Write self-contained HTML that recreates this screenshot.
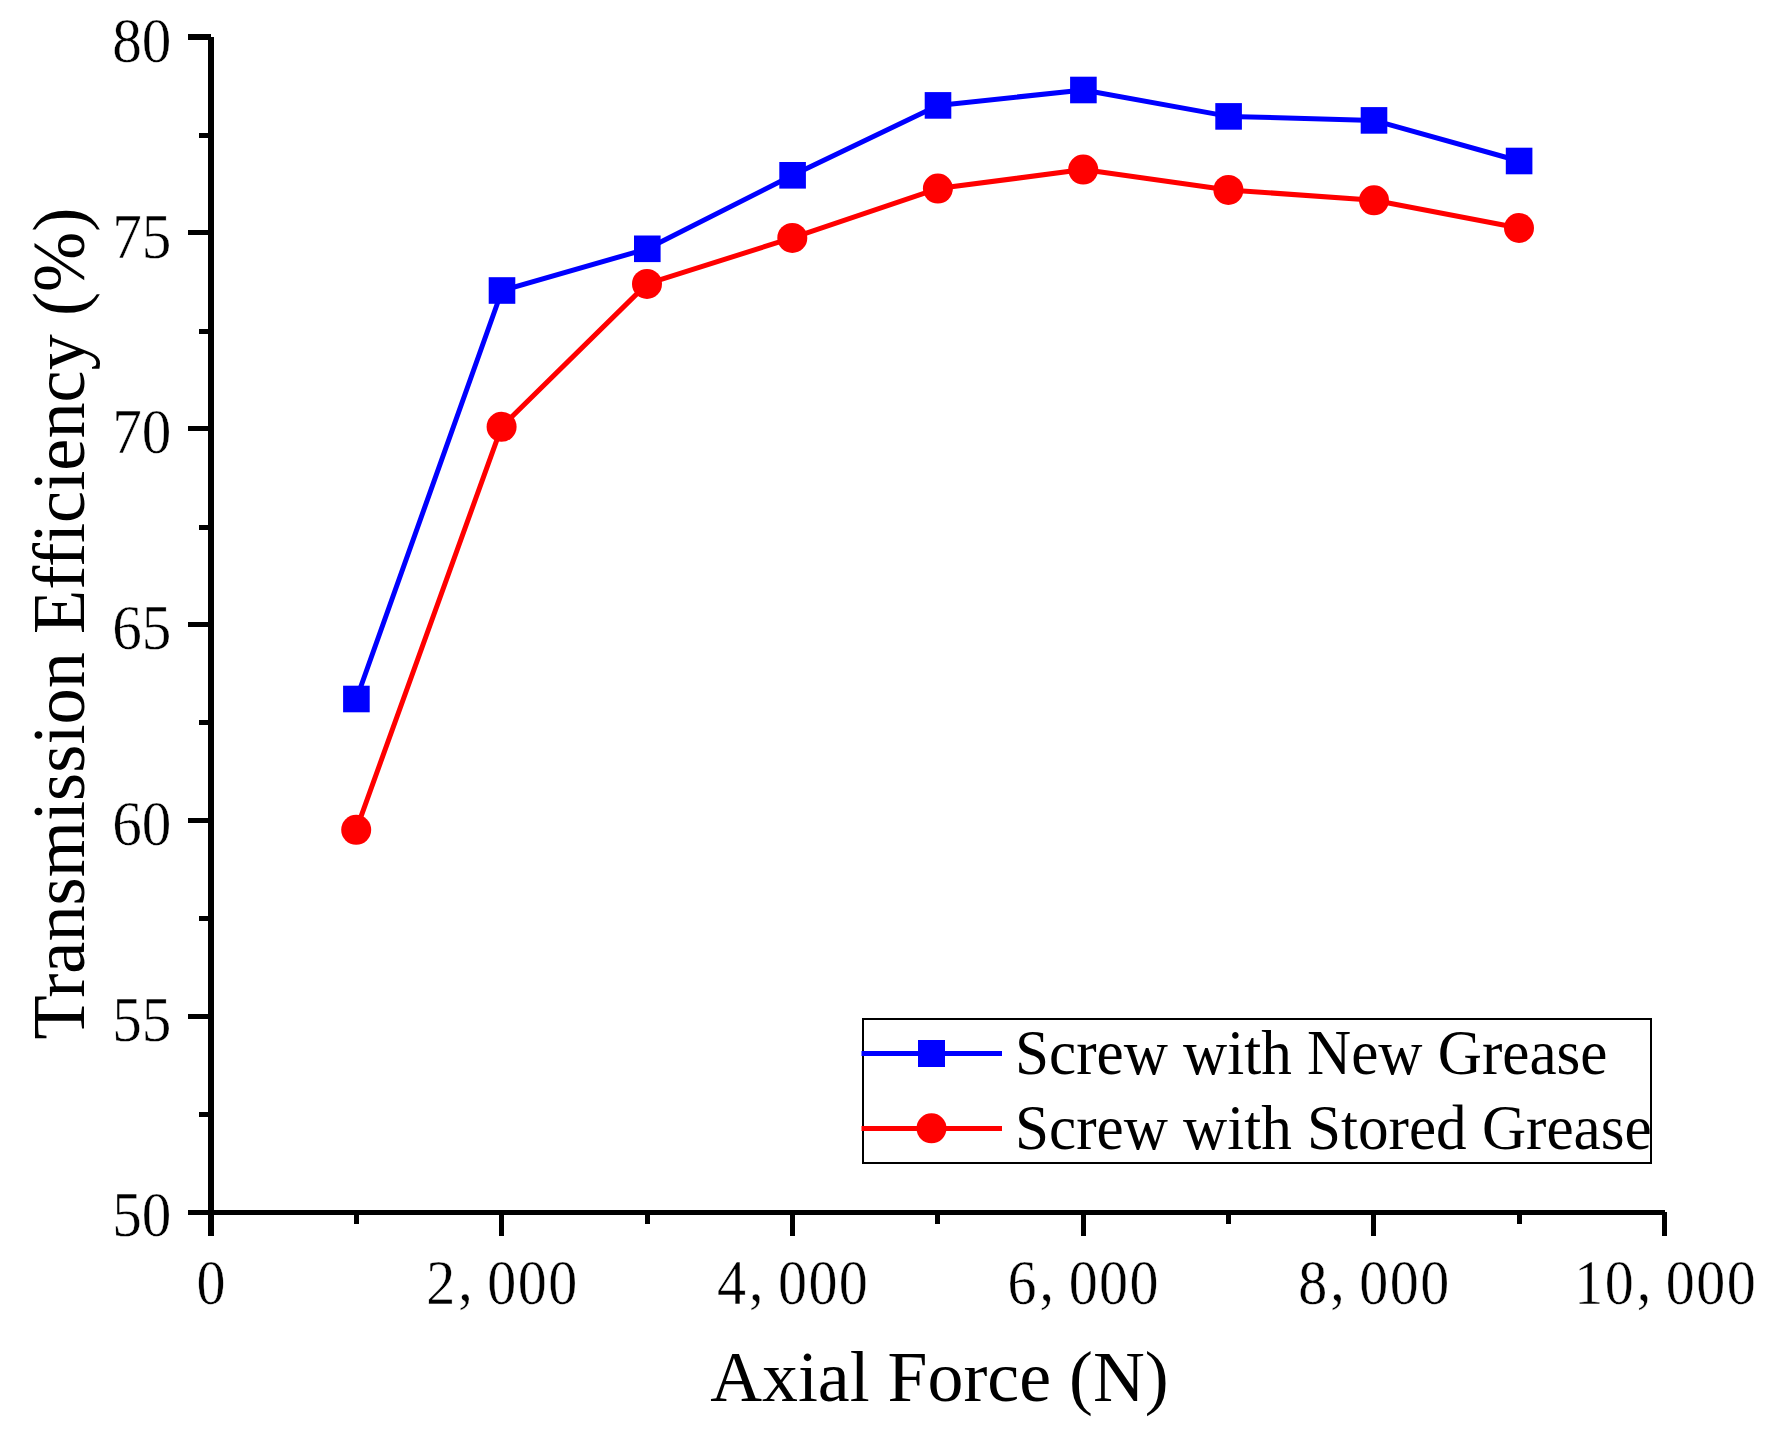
<!DOCTYPE html>
<html lang="en"><head><meta charset="utf-8"><title>Transmission Efficiency vs Axial Force</title>
<style>html,body{margin:0;padding:0;background:#fff}svg{display:block}text{font-family:"Liberation Serif",serif;fill:#000}.tk{font-size:61px;stroke:#fff;stroke-width:0.4px}.ax{font-size:72px}.lg{font-size:61.15px}</style></head><body>
<svg width="1784" height="1433" viewBox="0 0 1784 1433">
<rect x="0" y="0" width="1784" height="1433" fill="#fff"/>
<g fill="#000" shape-rendering="crispEdges">
<rect x="208" y="37" width="6" height="1199"/>
<rect x="188" y="1210" width="1477" height="5"/>
<rect x="188" y="1014" width="21" height="5"/>
<rect x="188" y="818" width="21" height="5"/>
<rect x="188" y="622" width="21" height="5"/>
<rect x="188" y="426" width="21" height="5"/>
<rect x="188" y="230" width="21" height="5"/>
<rect x="188" y="34" width="23" height="6"/>
<rect x="199" y="1112" width="10" height="5"/>
<rect x="199" y="916" width="10" height="5"/>
<rect x="199" y="720" width="10" height="5"/>
<rect x="199" y="525" width="10" height="5"/>
<rect x="199" y="329" width="10" height="5"/>
<rect x="199" y="133" width="10" height="5"/>
<rect x="499" y="1212" width="5" height="24"/>
<rect x="790" y="1212" width="5" height="24"/>
<rect x="1081" y="1212" width="5" height="24"/>
<rect x="1371" y="1212" width="5" height="24"/>
<rect x="1662" y="1212" width="5" height="24"/>
<rect x="354" y="1212" width="5" height="12"/>
<rect x="645" y="1212" width="5" height="12"/>
<rect x="935" y="1212" width="5" height="12"/>
<rect x="1226" y="1212" width="5" height="12"/>
<rect x="1517" y="1212" width="5" height="12"/>
</g>
<text class="tk" transform="translate(141.8,1236.4) scale(0.97,1.045)" text-anchor="middle">50</text>
<text class="tk" transform="translate(141.8,1040.6) scale(0.97,1.045)" text-anchor="middle">55</text>
<text class="tk" transform="translate(141.8,844.9) scale(0.97,1.045)" text-anchor="middle">60</text>
<text class="tk" transform="translate(141.8,649.2) scale(0.97,1.045)" text-anchor="middle">65</text>
<text class="tk" transform="translate(141.8,453.4) scale(0.97,1.045)" text-anchor="middle">70</text>
<text class="tk" transform="translate(141.8,257.7) scale(0.97,1.045)" text-anchor="middle">75</text>
<text class="tk" transform="translate(141.8,62.0) scale(0.97,1.045)" text-anchor="middle">80</text>
<text class="tk" transform="translate(211.0,1303.5) scale(0.952,1.045)" x="-15.2" y="0">0</text>
<text class="tk" transform="translate(501.7,1303.5) scale(0.952,1.045)" x="-79.3 -45.7 -15.2 16.8 48.8" y="0 -2.5 0 0 0">2,000</text>
<text class="tk" transform="translate(792.4,1303.5) scale(0.952,1.045)" x="-79.3 -45.7 -15.2 16.8 48.8" y="0 -2.5 0 0 0">4,000</text>
<text class="tk" transform="translate(1083.1,1303.5) scale(0.952,1.045)" x="-79.3 -45.7 -15.2 16.8 48.8" y="0 -2.5 0 0 0">6,000</text>
<text class="tk" transform="translate(1373.8,1303.5) scale(0.952,1.045)" x="-79.3 -45.7 -15.2 16.8 48.8" y="0 -2.5 0 0 0">8,000</text>
<text class="tk" transform="translate(1665.0,1303.5) scale(0.952,1.045)" x="-95.3 -63.3 -29.7 0.8 32.8 64.8" y="0 0 -2.5 0 0 0">10,000</text>
<text class="ax" style="font-size:71.8px" transform="translate(939.4,1400.7) scale(1,1.015)" text-anchor="middle">Axial Force (N)</text>
<text class="ax" style="font-size:72.35px" transform="translate(83.8,623.5) rotate(-90) scale(1,1.025)" text-anchor="middle">Transmission Efficiency (%)</text>
<polyline points="356.4,699.0 502.0,290.5 647.3,248.8 792.6,175.3 938.0,105.4 1083.4,90.0 1228.6,116.4 1374.0,120.4 1519.1,161.0" fill="none" stroke="#0000ff" stroke-width="5" stroke-linejoin="round"/>
<polyline points="356.2,829.8 501.6,426.8 647.0,283.9 792.3,237.9 937.9,188.6 1083.2,169.6 1228.4,189.9 1374.0,200.3 1519.0,228.0" fill="none" stroke="#ff0000" stroke-width="5" stroke-linejoin="round"/>
<rect x="343.1" y="685.7" width="26.6" height="26.6" fill="#0000ff"/>
<rect x="488.7" y="277.2" width="26.6" height="26.6" fill="#0000ff"/>
<rect x="634.0" y="235.5" width="26.6" height="26.6" fill="#0000ff"/>
<rect x="779.3" y="162.0" width="26.6" height="26.6" fill="#0000ff"/>
<rect x="924.7" y="92.1" width="26.6" height="26.6" fill="#0000ff"/>
<rect x="1070.1" y="76.7" width="26.6" height="26.6" fill="#0000ff"/>
<rect x="1215.3" y="103.1" width="26.6" height="26.6" fill="#0000ff"/>
<rect x="1360.7" y="107.1" width="26.6" height="26.6" fill="#0000ff"/>
<rect x="1505.8" y="147.7" width="26.6" height="26.6" fill="#0000ff"/>
<circle cx="356.2" cy="829.8" r="15" fill="#ff0000"/>
<circle cx="501.6" cy="426.8" r="15" fill="#ff0000"/>
<circle cx="647.0" cy="283.9" r="15" fill="#ff0000"/>
<circle cx="792.3" cy="237.9" r="15" fill="#ff0000"/>
<circle cx="937.9" cy="188.6" r="15" fill="#ff0000"/>
<circle cx="1083.2" cy="169.6" r="15" fill="#ff0000"/>
<circle cx="1228.4" cy="189.9" r="15" fill="#ff0000"/>
<circle cx="1374.0" cy="200.3" r="15" fill="#ff0000"/>
<circle cx="1519.0" cy="228.0" r="15" fill="#ff0000"/>
<rect x="863" y="1019" width="788" height="143.5" fill="#fff" stroke="#000" stroke-width="2" shape-rendering="crispEdges"/>
<rect x="861.5" y="1051" width="140.5" height="5" fill="#0000ff"/>
<rect x="918" y="1040" width="27" height="27" fill="#0000ff"/>
<rect x="861.5" y="1126" width="140.5" height="5" fill="#ff0000"/>
<circle cx="931.5" cy="1128.3" r="15" fill="#ff0000"/>
<text class="lg" transform="translate(1015,1074.3) scale(1,1.03)">Screw with New Grease</text>
<text class="lg" transform="translate(1015,1149.3) scale(1,1.03)">Screw with Stored Grease</text>
</svg></body></html>
